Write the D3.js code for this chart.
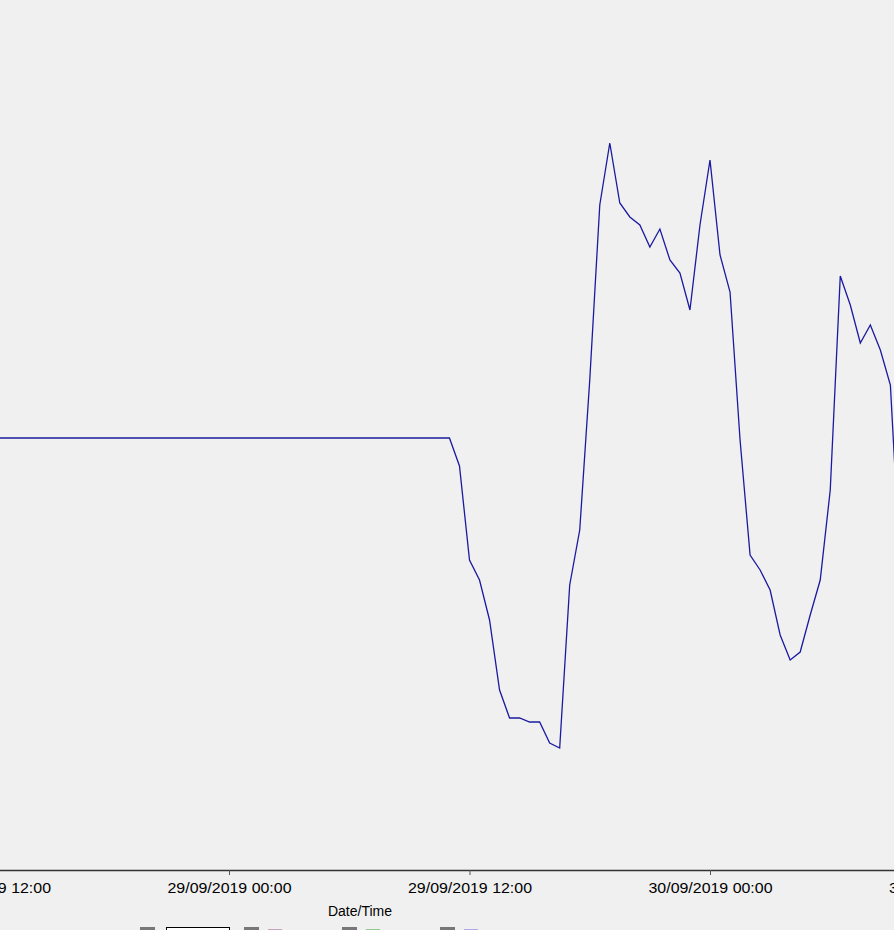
<!DOCTYPE html>
<html><head><meta charset="utf-8">
<script src="https://cdn.jsdelivr.net/npm/d3@7"></script>
<style>body{margin:0;background:#f0f0f0}svg{display:block}</style>
</head><body>
<script>
// half-hourly values starting 29/09/2019 11:00 (flat before)
const startFlat = "2019-09-28T11:00";
const seriesStart = "2019-09-29T11:00";
const values = [43.2,40.4,31,29,25,18,15.2,15.2,14.8,14.8,12.7,12.2,28.5,34,49,66.5,72.7,66.7,65.3,64.5,62.3,64.1,61,59.7,56,64.5,71,61.5,57.8,43,31.5,30,28,23.5,21,21.8,25.5,29,38,59.4,56.5,52.7,54.5,52,48.5,30];
const tickLabels = ["28/09/2019 12:00","29/09/2019 00:00","29/09/2019 12:00","30/09/2019 00:00","30/09/2019 12:00"];
const tickTimes = ["2019-09-28T12:00","2019-09-29T00:00","2019-09-29T12:00","2019-09-30T00:00","2019-09-30T12:00"];
const legendColors = ["#888","#c8a0c0","#90c890","#b0a8e0"];

const W=894,H=930;
const svg=d3.select("body").append("svg").attr("width",W).attr("height",H);
const p=d3.timeParse("%Y-%m-%dT%H:%M");
const t0=p(seriesStart);
const data=[{t:p(startFlat),v:values[0]}].concat(values.map((v,i)=>({t:new Date(+t0+i*1800000),v})));
const x=d3.scaleTime().domain([p("2019-09-29T00:00"),p("2019-09-30T00:00")]).range([229,710]);
const y=d3.scaleLinear().domain([0,87]).range([870,0]);
svg.append("defs").append("clipPath").attr("id","c").append("rect").attr("width",W).attr("height",870);
svg.append("path").datum(data).attr("clip-path","url(#c)").attr("fill","none").attr("stroke","#1a1aa0").attr("stroke-width",1.3)
 .attr("d",d3.line().x(d=>x(d.t)).y(d=>y(d.v)));
const ax=svg.append("g").attr("transform","translate(0,870)")
 .call(d3.axisBottom(x).tickValues(tickTimes.map(p)).tickFormat((d,i)=>tickLabels[i]).tickSize(5).tickSizeOuter(0));
ax.select(".domain").attr("stroke","#333").attr("stroke-width",1.5).attr("d","M0,0.5H894");
ax.selectAll("text").attr("font-family","Arial, Liberation Sans").attr("font-size",14).attr("fill","#000").attr("dy","1.1em").attr("textLength",124).attr("lengthAdjust","spacingAndGlyphs");
ax.selectAll("line").attr("stroke","#555");
svg.append("text").attr("x",360).attr("y",916).attr("text-anchor","middle").attr("font-family","Arial, Liberation Sans").attr("font-size",14).text("Date/Time");
const lx=[140,244,342,440];
lx.forEach((xx,i)=>{
 svg.append("rect").attr("x",xx).attr("y",927).attr("width",15).attr("height",10).attr("fill","#777");
 if(i>0) svg.append("rect").attr("x",xx+24).attr("y",929).attr("width",14).attr("height",6).attr("fill",legendColors[i]);
});
svg.append("rect").attr("x",166.5).attr("y",927.5).attr("width",63).attr("height",10).attr("fill","#fff").attr("stroke","#000");
</script></body></html>
